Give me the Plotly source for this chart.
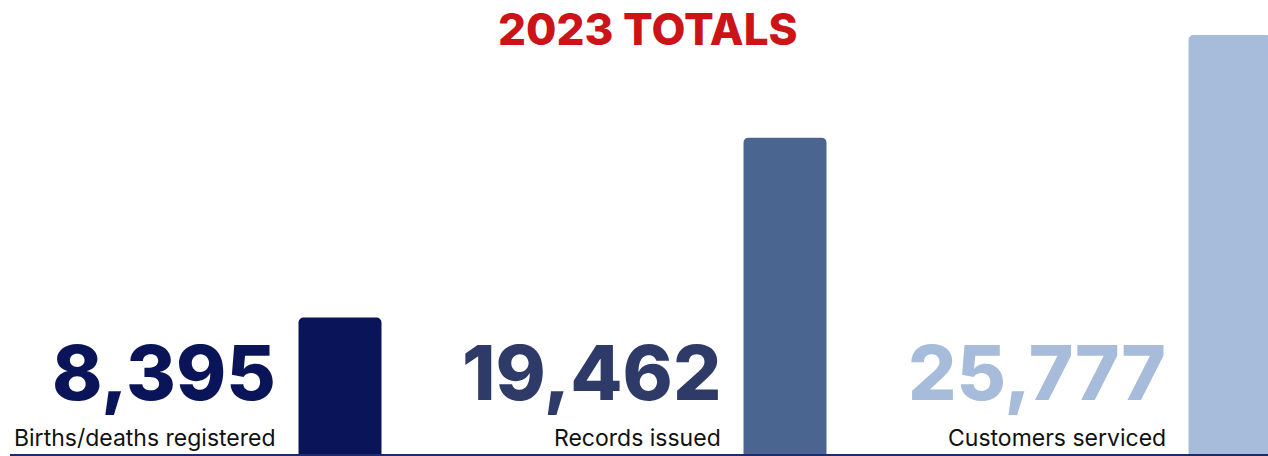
import plotly.graph_objects as go

categories = ["Births/deaths registered", "Records issued", "Customers serviced"]
values = [8395, 19462, 25777]
value_labels = ["8,395", "19,462", "25,777"]
bar_colors = ["#0a1458", "#4a658f", "#a7bcdb"]
number_colors = ["#0a1458", "#2e3a67", "#a7bcdb"]
title_text = "2023 TOTALS"

xpos = list(range(len(categories)))

fig = go.Figure()
fig.add_trace(go.Bar(
    x=xpos, y=values, width=0.1865,
    marker=dict(color=bar_colors, line=dict(width=0)),
    hoverinfo="skip", showlegend=False,
))

annotations = []
for i, (lab, num) in enumerate(zip(categories, value_labels)):
    annotations.append(dict(
        x=i, xref="x", y=0.196, yref="paper", text=num, showarrow=False,
        xanchor="right", yanchor="middle", xshift=-62,
        font=dict(family="Inter", size=76, color=number_colors[i], weight=800),
    ))
    annotations.append(dict(
        x=i, xref="x", y=0.038, yref="paper", text=lab, showarrow=False,
        xanchor="right", yanchor="middle", xshift=-62,
        font=dict(family="Inter", size=23, color="#111111", weight=400),
    ))
annotations.append(dict(
    x=0.507, xref="paper", y=1.0143, yref="paper", text=title_text, showarrow=False,
    xanchor="center", yanchor="middle",
    font=dict(family="Inter", size=44, color="#cc1418", weight=800),
))

fig.update_layout(
    width=1268, height=456,
    margin=dict(l=10, r=0, t=35, b=2),
    paper_bgcolor="white", plot_bgcolor="white",
    barcornerradius=5,
    xaxis=dict(range=[-0.7416, 2.0854], showgrid=False, zeroline=False,
               showticklabels=False, showline=True, linecolor="#1d2c6e", linewidth=2,
               fixedrange=True),
    yaxis=dict(range=[0, 25777], showgrid=False, zeroline=False,
               showticklabels=False, showline=False, fixedrange=True),
    annotations=annotations,
)

fig.write_html("out.html", config={"displayModeBar": False},
               post_script="document.body.style.margin='0';document.body.style.overflow='hidden';")
